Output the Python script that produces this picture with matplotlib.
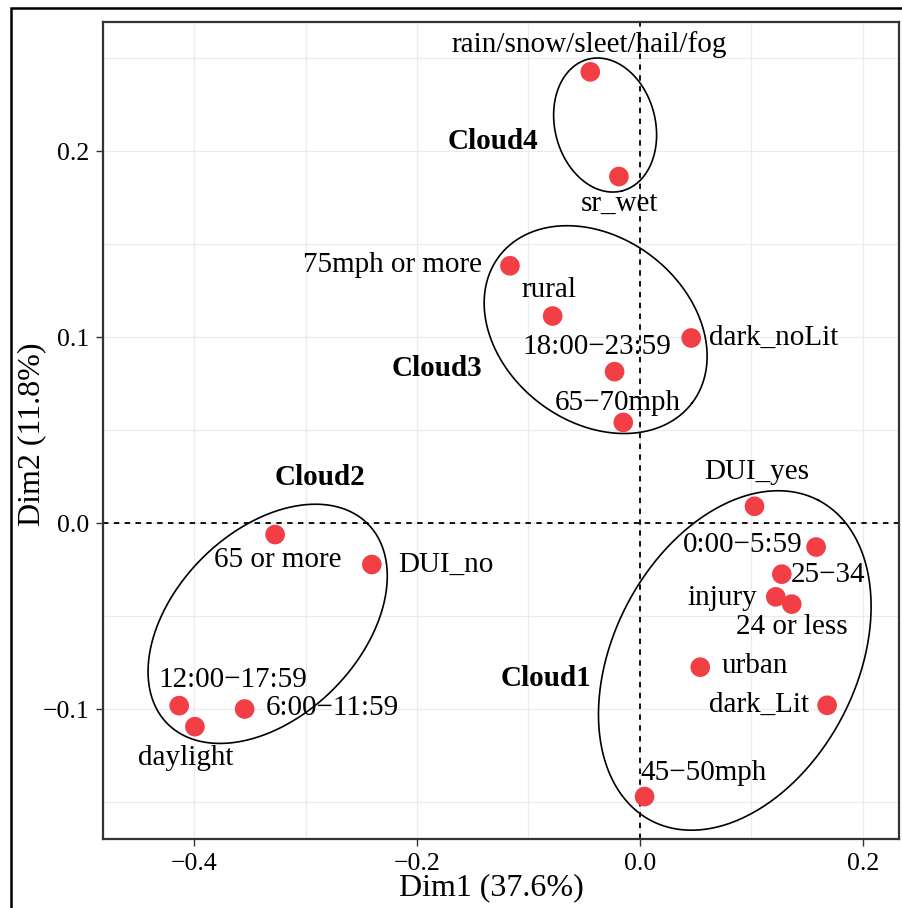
import numpy as np
import matplotlib
matplotlib.use("Agg")
import matplotlib.pyplot as plt
from matplotlib.patches import Rectangle

plt.rcParams['font.family'] = ['Liberation Serif', 'DejaVu Serif']
plt.rcParams['axes.unicode_minus'] = True

# ---------------- data ----------------
categories = ["rain/snow/sleet/hail/fog", "sr_wet", "75mph or more", "rural",
              "dark_noLit", "18:00\u221223:59", "65\u221270mph",
              "65 or more", "DUI_no", "12:00\u221217:59", "daylight", "6:00\u221211:59",
              "DUI_yes", "0:00\u22125:59", "25\u221234", "injury", "24 or less",
              "urban", "dark_Lit", "45\u221250mph"]
dim1 = [-0.0445, -0.0188, -0.1166, -0.0783, 0.0461, -0.0227, -0.0149,
        -0.3274, -0.2406, -0.4135, -0.3994, -0.3548,
        0.1029, 0.1582, 0.1274, 0.1220, 0.1363, 0.0542, 0.1681, 0.0042]
dim2 = [0.2426, 0.1863, 0.1383, 0.1113, 0.0995, 0.0814, 0.0541,
        -0.0062, -0.0223, -0.0982, -0.1095, -0.1000,
        0.0090, -0.0129, -0.0275, -0.0397, -0.0436, -0.0775, -0.0980, -0.1471]

# label anchor positions (data units)
label_x = [-0.0456, -0.0182, -0.2218, -0.0819, 0.1197, -0.0386, -0.0196,
           -0.3249, -0.1738, -0.3650, -0.4074, -0.2761,
           0.1045, 0.0921, 0.1691, 0.0737, 0.1368, 0.1029, 0.1065, 0.0571]
label_y = [0.2575, 0.1716, 0.1388, 0.1254, 0.0997, 0.0948, 0.0648,
           -0.0200, -0.0227, -0.0844, -0.1263, -0.0995,
           0.0272, -0.0120, -0.0281, -0.0404, -0.0560, -0.0769, -0.0979, -0.1344]

cloud_names = ["Cloud1", "Cloud2", "Cloud3", "Cloud4"]
cloud_label_x = [-0.0846, -0.2873, -0.1823, -0.1321]
cloud_label_y = [-0.0834, 0.0245, 0.0830, 0.2053]
# ellipse centers (data) ; semi-axes in pixels, angle in degrees (screen)
ell_cx = [0.0852, -0.3341, -0.0397, -0.0312]
ell_cy = [-0.0739, -0.0542, 0.1040, 0.2140]
ell_a = [180.7, 141.5, 121.2, 68.0]
ell_b = [121.4, 92.7, 92.4, 50.2]
ell_ang = [62.4, 45.0, -37.3, -75.5]

xticks = [-0.4, -0.2, 0.0, 0.2]
yticks = [-0.1, 0.0, 0.1, 0.2]
xlabel = "Dim1 (37.6%)"
ylabel = "Dim2 (11.8%)"

# ---------------- figure ----------------
W, H = 903, 908
fig = plt.figure(figsize=(W / 100, H / 100), dpi=100)
ax = fig.add_axes([103 / W, 1 - 839 / H, (899 - 103) / W, (839 - 22) / H])
ax.set_xlim(-0.4819, 0.2326)
ax.set_ylim(-0.1699, 0.2694)

ax.set_xticks(xticks)
ax.set_yticks(yticks)
ax.set_xticklabels([f"{v:.1f}".replace("-", "\u2212") for v in xticks])
ax.set_yticklabels([f"{v:.1f}".replace("-", "\u2212") for v in yticks])
ax.set_xticks([-0.3, -0.1, 0.1], minor=True)
ax.set_yticks([-0.15, -0.05, 0.05, 0.15, 0.25], minor=True)
ax.grid(True, which='both', color='#EBEBEB', lw=0.9, zorder=0)
ax.set_axisbelow(True)
ax.tick_params(which='major', length=5, width=1.0, color='#333333',
               labelsize=18.5, pad=5, labelcolor='black')
ax.tick_params(which='minor', length=0)
for s in ax.spines.values():
    s.set_color('#333333')
    s.set_linewidth(1.6)

ax.axhline(0, color='black', lw=1.3, ls=(0, (3, 3)), zorder=1)
ax.axvline(0, color='black', lw=1.3, ls=(0, (3, 3)), zorder=1)

# ellipses drawn in screen space, converted back to data
t = np.linspace(0, 2 * np.pi, 400)
for cx, cy, a, b, ang in zip(ell_cx, ell_cy, ell_a, ell_b, ell_ang):
    c = ax.transData.transform((cx, cy))
    th = np.deg2rad(ang)
    px = c[0] + a * np.cos(t) * np.cos(th) - b * np.sin(t) * np.sin(th)
    py = c[1] + a * np.cos(t) * np.sin(th) + b * np.sin(t) * np.cos(th)
    pts = ax.transData.inverted().transform(np.column_stack([px, py]))
    ax.plot(pts[:, 0], pts[:, 1], color='black', lw=1.2, zorder=2)

ax.scatter(dim1, dim2, s=200, color='#F23F45', edgecolors='none', zorder=3)

for name, lx, ly in zip(categories, label_x, label_y):
    ax.text(lx, ly, name, ha='center', va='center', fontsize=21, zorder=4)

for name, lx, ly in zip(cloud_names, cloud_label_x, cloud_label_y):
    ax.text(lx, ly, name, ha='center', va='center', fontsize=21,
            fontweight='bold', zorder=4)

fig.text(491 / W, 1 - 888 / H, xlabel, ha='center', va='center', fontsize=23)
fig.text(32 / W, 1 - 434 / H, ylabel, ha='center', va='center', fontsize=23,
         rotation=90)

# outer frame (left and top edges visible)
fig.patches.append(Rectangle((11 / W, -0.1), 1.2, 1 - 8 / H + 0.1,
                             transform=fig.transFigure, fill=False,
                             edgecolor='black', lw=1.8))

fig.savefig("out.png", dpi=100)
